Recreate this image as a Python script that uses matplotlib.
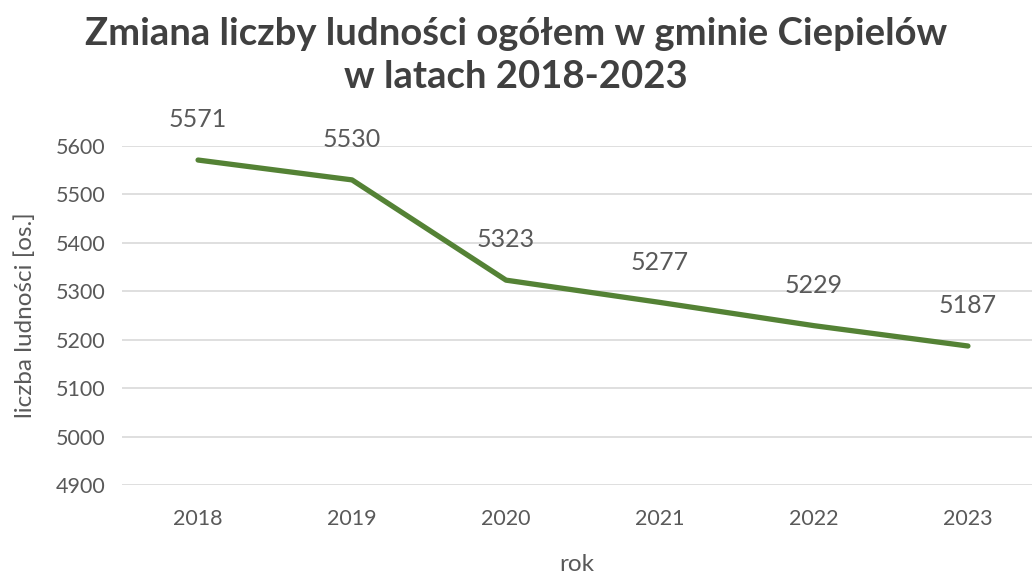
import matplotlib.pyplot as plt

years = ["2018", "2019", "2020", "2021", "2022", "2023"]
population = [5571, 5530, 5323, 5277, 5229, 5187]
y_ticks = [4900, 5000, 5100, 5200, 5300, 5400, 5500, 5600]

text_color = "#595959"
line_color = "#548235"


def main():
    plt.rcParams["font.family"] = ["Lato", "DejaVu Sans"]
    fig = plt.figure(figsize=(10.32, 5.74), dpi=100)
    ax = fig.add_axes([122 / 1032, 89 / 574, 910 / 1032, 339 / 574])

    x = list(range(len(years)))
    ax.plot(x, population, color=line_color, lw=3.8, solid_capstyle="round")
    for xi, v in zip(x, population):
        ax.annotate(str(v), (xi, v), xytext=(0, 29), textcoords="offset points",
                    ha="center", va="center", fontsize=18, color=text_color)

    ax.set_xlim(-0.494, 5.416)
    ax.set_ylim(4900, 5600)
    ax.set_yticks(y_ticks)
    ax.set_xticks(x)
    ax.set_xticklabels(years)
    ax.grid(axis="y", color="#d9d9d9", lw=1.2)
    ax.set_axisbelow(True)
    for s in ax.spines.values():
        s.set_visible(False)
    ax.tick_params(length=0, labelsize=15.5, labelcolor=text_color)
    ax.tick_params(axis="x", pad=17)
    ax.tick_params(axis="y", pad=12)

    ax.set_xlabel("rok", fontsize=17.5, color=text_color, labelpad=18)
    ax.set_ylabel("liczba ludności [os.]", fontsize=17.5, color=text_color, labelpad=14)

    fig.text(0.5, 0.903, "Zmiana liczby ludności ogółem w gminie Ciepielów\nw latach 2018-2023",
             ha="center", va="center", fontsize=27.5, fontweight="bold",
             color="#404040", linespacing=1.32)

    fig.savefig("out.png", dpi=100)
    plt.close("all")


if __name__ == "__main__":
    main()
